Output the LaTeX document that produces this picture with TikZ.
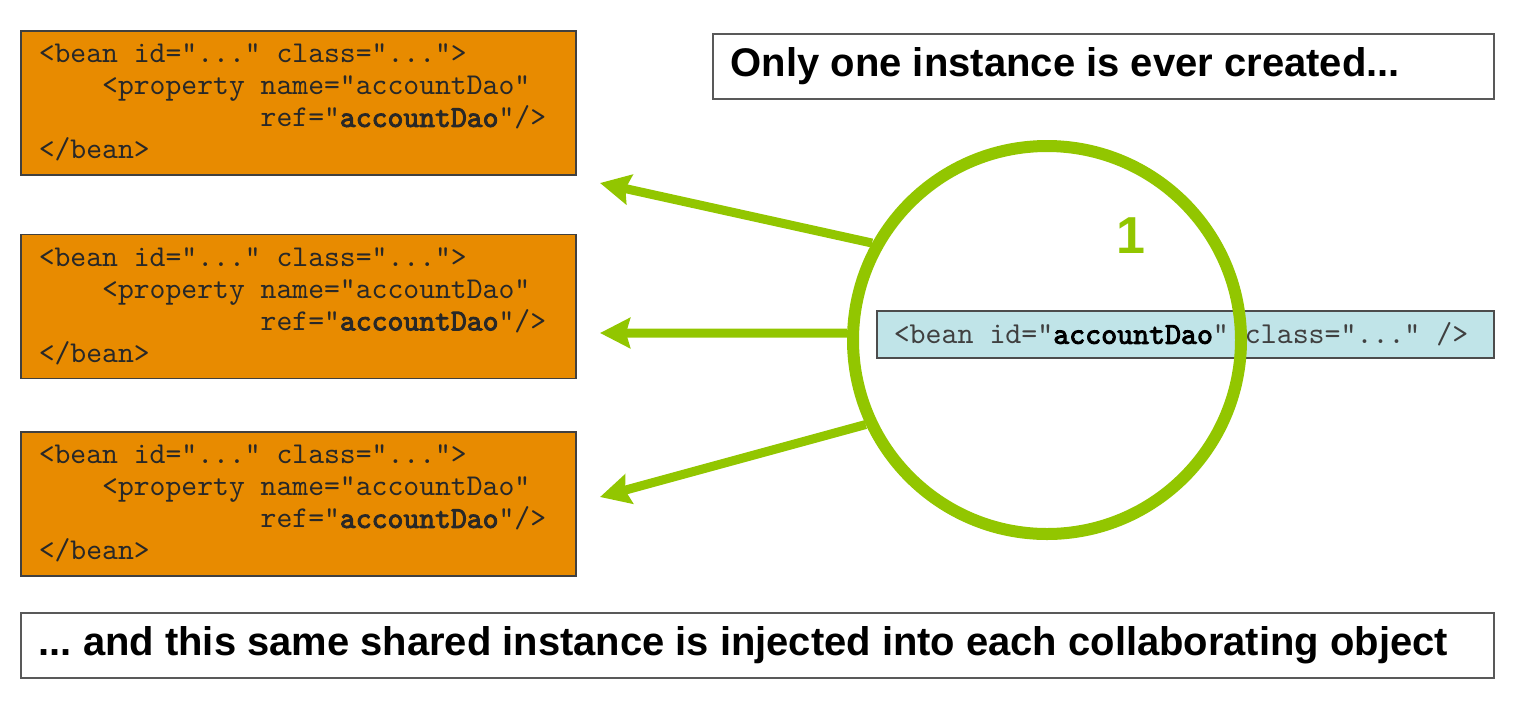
\documentclass[tikz,border=0pt]{standalone}
\usepackage{fontspec}
\setmainfont{Liberation Sans}
\setmonofont{lmmono10-regular.otf}[BoldFont=lmmono10-regular.otf, BoldFeatures={FakeBold=3}, WordSpace={1,0,0}]
\usepackage{graphicx}
\usetikzlibrary{arrows.meta,positioning}
\definecolor{beanorange}{RGB}{232,139,0}
\definecolor{beanblue}{RGB}{192,228,232}
\definecolor{limegreen}{RGB}{146,198,0}
\definecolor{codegray}{RGB}{40,40,40}
\newcommand{\truespaces}{\spaceskip=0pt\xspaceskip=0pt\relax}
\newcommand{\codeind}[1]{\hspace*{#1\fontcharwd\font`x}}
\newcommand{\beancode}{\truespaces
  <bean id="..." class="...">\\
  \codeind{4}<property name="accountDao"\\
  \codeind{14}ref="\textbf{accountDao}"/>\\
  </bean>}
\frenchspacing

\begin{document}
\begin{tikzpicture}[x=1pt, y=-1pt, >={Stealth[length=30pt,width=30pt,inset=4pt]},
    beanbox/.style={draw=black!75, line width=1.5pt, fill=beanorange, text width=519pt,
      minimum height=144pt, inner xsep=18pt, align=left, text=codegray,
      font=\ttfamily\fontsize{30.2}{32}\selectfont},
    sharedbox/.style={draw=black!70, line width=1.5pt, fill=beanblue, text width=583pt,
      minimum height=47pt, inner xsep=17pt, align=left, text=black!75,
      font=\ttfamily\fontsize{30.4}{32}\selectfont},
    msgbox/.style={draw=black!65, line width=1.5pt, minimum height=65pt, inner xsep=18pt,
      align=left, font=\bfseries\fontsize{40}{48}\selectfont},
    injectarrow/.style={draw=limegreen, line width=9pt, ->},
    node distance=56pt
]
    \useasboundingbox (0,0) rectangle (1516,716);

    % Collaborating beans
    \node[beanbox, anchor=north west] (bean1) at (20,30) {\beancode};
    \node[beanbox, below=58pt of bean1] (bean2) {\beancode};
    \node[beanbox, below=52pt of bean2] (bean3) {\beancode};

    % Messages
    \node[msgbox, text width=745pt, anchor=north west] (once) at (712,33)
      {\truespaces Only one instance is ever created...};
    \node[msgbox, text width=1437pt, anchor=north west] (shared) at (20,612)
      {\truespaces\resizebox{1409pt}{\height}{... and this same shared instance is injected into each collaborating object}};

    % The single instance
    \node[sharedbox, anchor=west] (dao) at (876,334.5)
      {\truespaces <bean id="\textbf{\color{black}accountDao}" class="..." />};
    \node[circle, draw=limegreen, line width=12pt, minimum size=388pt] (inst) at (1047,340) {};
    \node[text=limegreen, font=\bfseries\fontsize{52}{52}\selectfont] (count) at (1131,236) {1};

    % Injection arrows
    \coordinate (tip1) at (600,183);
    \coordinate (tip2) at (600,333);
    \coordinate (tip3) at (600,497);
    \draw[injectarrow] (inst.151) -- (tip1);
    \draw[injectarrow] (inst.178) -- (tip2);
    \draw[injectarrow] (inst.205) -- (tip3);
\end{tikzpicture}
\end{document}
